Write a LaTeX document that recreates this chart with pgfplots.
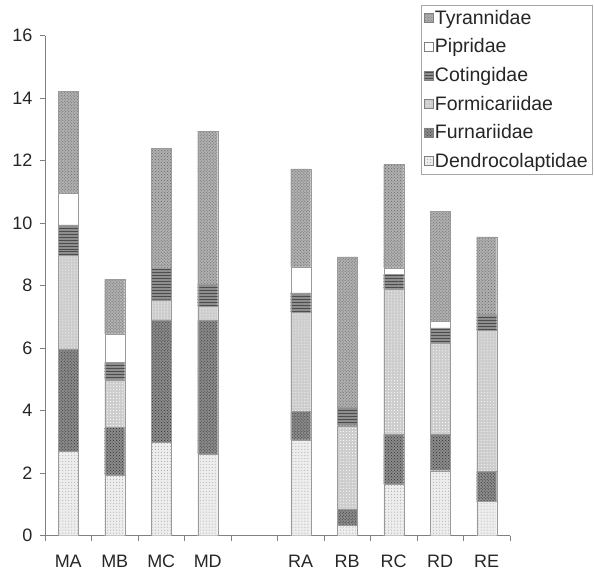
\documentclass[border=0pt]{standalone}
\usepackage{fontspec}
\setmainfont{Liberation Sans}
\usepackage{pgfplots}
\pgfplotsset{compat=1.18}
\usepackage{pgfplotstable}
\usetikzlibrary{patterns}
\definecolor{cT}{HTML}{B0B0B0}
\definecolor{cC}{HTML}{8E8E8E}
\definecolor{cFo}{HTML}{CDCDCD}
\definecolor{cFu}{HTML}{8A8A8A}
\definecolor{cD}{HTML}{EDEDED}
\definecolor{edge}{HTML}{9A9A9A}
\pgfplotstableread{
x D Fu Fo C P T
0 2.69 3.29 2.98 0.99 1.02 3.26
1 1.95 1.51 1.53 0.55 0.92 1.74
2 2.98 3.93 0.64 1.00 0 3.85
3 2.62 4.27 0.45 0.70 0 4.91
5 3.07 0.90 3.18 0.62 0.83 3.14
6 0.34 0.51 2.67 0.60 0 4.80
7 1.66 1.59 4.65 0.46 0.21 3.31
8 2.08 1.17 2.92 0.48 0.21 3.52
9 1.09 0.96 4.52 0.50 0 2.49
}\data
\begin{document}
\begin{tikzpicture}
\useasboundingbox (-45bp,-36.3bp) rectangle (549bp,535.7bp);
\begin{axis}[
  at={(0,0)}, anchor=south west,
  scale only axis,
  width=465bp, height=500bp,
  ybar stacked, bar width=20bp,
  xmin=-0.5, xmax=9.5, ymin=0, ymax=16,
  axis lines*=left,
  axis line style={draw=gray, line width=0.8bp},
  xtick={0,1,2,3,4,5,6,7,8,9},
  xticklabels={MA,MB,MC,MD,,RA,RB,RC,RD,RE},
  major x tick style={draw=none},
  minor xtick={-0.5,0.5,...,9.5},
  minor tick length=5bp,
  ytick={0,2,...,16},
  major tick length=5bp,
  tick align=outside,
  tick style={draw=gray, line width=0.8bp},
  tick label style={font=\fontsize{18bp}{20bp}\selectfont, text=black!85},
  /pgf/number format/assume math mode=true,
  xticklabel style={yshift=-11bp},
  yticklabel style={xshift=-4bp},
  legend image code/.code={\draw[#1, draw=gray] (0bp,-4.5bp) rectangle (9bp,4.5bp);},
  reverse legend,
  legend style={at={(rel axis cs:1,1)}, anchor=north east, xshift=82bp, yshift=30.7bp,
    draw=gray!70, font=\fontsize{19.5bp}{21bp}\selectfont, text=black!85,
    cells={anchor=west}, inner xsep=2bp, inner ysep=3bp, row sep=9bp},
]
\addplot[fill=cD, draw=edge, postaction={pattern=dots, pattern color=gray!70}] table[x=x,y=D]{\data};
\addplot[fill=cFu, draw=edge, postaction={pattern=crosshatch dots, pattern color=gray!40!black}] table[x=x,y=Fu]{\data};
\addplot[fill=cFo, draw=edge, postaction={pattern=dots, pattern color=white}] table[x=x,y=Fo]{\data};
\addplot[fill=cC, draw=edge, postaction={pattern=horizontal lines, pattern color=black!70}] table[x=x,y=C]{\data};
\addplot[fill=white, draw=edge] table[x=x,y=P]{\data};
\addplot[fill=cT, draw=edge, postaction={pattern=crosshatch dots, pattern color=gray!80!black}] table[x=x,y=T]{\data};
\legend{Dendrocolaptidae,Furnariidae,Formicariidae,Cotingidae,Pipridae,Tyrannidae}
\end{axis}
\end{tikzpicture}
\end{document}
